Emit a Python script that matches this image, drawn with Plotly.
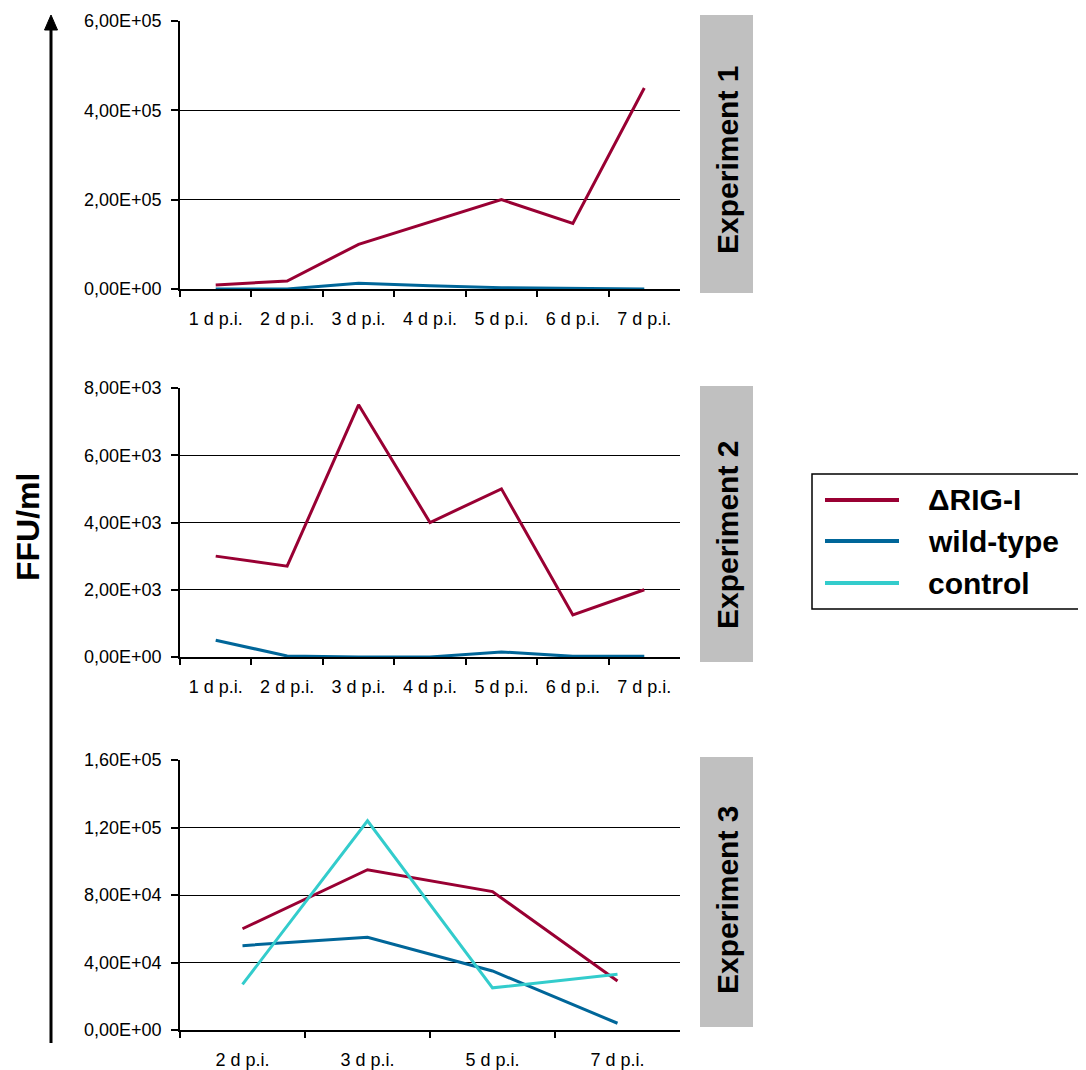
import plotly.graph_objects as go

W, H = 1086, 1070
OFF = 8  # page body margin offset

# ---------------- data ----------------
series_names = ["ΔRIG-I", "wild-type", "control"]
series_colors = ["#990033", "#006699", "#33CCCC"]

exp1_days = ["1 d p.i.", "2 d p.i.", "3 d p.i.", "4 d p.i.", "5 d p.i.", "6 d p.i.", "7 d p.i."]
exp1_rigi = [9000, 18000, 100000, 150000, 200000, 147000, 450000]
exp1_wt = [0, 0, 13000, 7000, 3000, 2000, 0]
exp1_yvals = [0, 200000, 400000, 600000]
exp1_ytext = ["0,00E+00", "2,00E+05", "4,00E+05", "6,00E+05"]

exp2_days = ["1 d p.i.", "2 d p.i.", "3 d p.i.", "4 d p.i.", "5 d p.i.", "6 d p.i.", "7 d p.i."]
exp2_rigi = [3000, 2700, 7500, 4000, 5000, 1250, 2000]
exp2_wt = [500, 30, 0, 0, 150, 20, 20]
exp2_yvals = [0, 2000, 4000, 6000, 8000]
exp2_ytext = ["0,00E+00", "2,00E+03", "4,00E+03", "6,00E+03", "8,00E+03"]

exp3_days = ["2 d p.i.", "3 d p.i.", "5 d p.i.", "7 d p.i."]
exp3_rigi = [60000, 95000, 82000, 29000]
exp3_wt = [50000, 55000, 35000, 4000]
exp3_ctrl = [27000, 124000, 25000, 33000]
exp3_yvals = [0, 40000, 80000, 120000, 160000]
exp3_ytext = ["0,00E+00", "4,00E+04", "8,00E+04", "1,20E+05", "1,60E+05"]

panel_titles = ["Experiment 1", "Experiment 2", "Experiment 3"]
axis_title = "FFU/ml"

# ---------------- layout helpers ----------------
def px(x):
    return (x - OFF) / W

def py(y):
    return 1 - (y - OFF) / H

FONT = "Liberation Sans, Arial, sans-serif"

fig = go.Figure()

panels = [
    dict(days=exp1_days, series=[exp1_rigi, exp1_wt], yv=exp1_yvals, yt=exp1_ytext, top=21, bot=289),
    dict(days=exp2_days, series=[exp2_rigi, exp2_wt], yv=exp2_yvals, yt=exp2_ytext, top=388, bot=657),
    dict(days=exp3_days, series=[exp3_rigi, exp3_wt, exp3_ctrl], yv=exp3_yvals, yt=exp3_ytext, top=760, bot=1030),
]

x_left, x_right = 180, 680

for i, p in enumerate(panels):
    n = i + 1
    xa = "x" if n == 1 else f"x{n}"
    ya = "y" if n == 1 else f"y{n}"
    for k, vals in enumerate(p["series"]):
        fig.add_trace(go.Scatter(
            x=p["days"], y=vals, mode="lines",
            name=series_names[k], showlegend=False,
            line=dict(color=series_colors[k], width=3),
            xaxis=xa, yaxis=ya,
        ))
    xkey = "xaxis" if n == 1 else f"xaxis{n}"
    ykey = "yaxis" if n == 1 else f"yaxis{n}"
    fig.update_layout(**{
        xkey: dict(
            domain=[px(x_left), px(x_right)],
            anchor=ya,
            type="category",
            categoryorder="array", categoryarray=p["days"],
            range=[-0.5, len(p["days"]) - 0.5],
            showgrid=False, zeroline=False, automargin=False,
            showline=True, linecolor="black", linewidth=2,
            ticks="outside", tickson="boundaries", ticklen=6, tickwidth=1.5, tickcolor="black",
            tickfont=dict(family=FONT, size=18, color="black"),
            ticklabelstandoff=12,
        ),
        ykey: dict(
            domain=[py(p["bot"]), py(p["top"])],
            anchor=xa,
            range=[0, p["yv"][-1]],
            tickmode="array", tickvals=p["yv"], ticktext=p["yt"],
            showgrid=True, gridcolor="black", gridwidth=1.3,
            zeroline=False, automargin=False,
            showline=True, linecolor="black", linewidth=1.5,
            ticks="outside", ticklen=7, tickwidth=1.5, tickcolor="black",
            tickfont=dict(family=FONT, size=18, color="black"),
            ticklabelstandoff=6,
        ),
    })

shapes = []
annotations = []

# grey panel label boxes
boxes = [(15, 293, 160), (386, 662, 535), (757, 1027, 900)]
for (t, b, c), title in zip(boxes, panel_titles):
    shapes.append(dict(type="rect", xref="paper", yref="paper",
                       x0=px(700), x1=px(753), y0=py(b), y1=py(t),
                       fillcolor="#C0C0C0", line=dict(width=0), layer="below"))
    annotations.append(dict(xref="paper", yref="paper", x=px(727), y=py(c),
                            text=f"<b>{title}</b>", textangle=-90, showarrow=False,
                            font=dict(family=FONT, size=30, color="black"),
                            xanchor="center", yanchor="middle"))

# big vertical arrow with axis title
shapes.append(dict(type="line", xref="paper", yref="paper",
                   x0=px(51), x1=px(51), y0=py(1043), y1=py(26),
                   line=dict(color="black", width=3)))
shapes.append(dict(type="path", xref="paper", yref="paper",
                   path=f"M {px(44.5)} {py(30)} L {px(51)} {py(15)} L {px(57.5)} {py(30)} Z",
                   fillcolor="black", line=dict(color="black", width=1)))
annotations.append(dict(xref="paper", yref="paper", x=px(28), y=py(527),
                        text=f"<b>{axis_title}</b>", textangle=-90, showarrow=False,
                        font=dict(family=FONT, size=32, color="black"),
                        xanchor="center", yanchor="middle"))

# legend box
shapes.append(dict(type="rect", xref="paper", yref="paper",
                   x0=px(812), x1=px(1110), y0=py(609), y1=py(474),
                   line=dict(color="black", width=1.5), fillcolor="white", layer="below"))
rows = [500, 541, 583]
for name, color, ry in zip(series_names, series_colors, rows):
    shapes.append(dict(type="line", xref="paper", yref="paper",
                       x0=px(825), x1=px(899), y0=py(ry), y1=py(ry),
                       line=dict(color=color, width=4)))
    annotations.append(dict(xref="paper", yref="paper", x=px(926), y=py(ry),
                            text=f"<b>{name}</b>", showarrow=False,
                            font=dict(family=FONT, size=30, color="black"),
                            xanchor="left", yanchor="middle"))

fig.update_layout(
    width=W, height=H,
    margin=dict(l=0, r=0, t=0, b=0),
    paper_bgcolor="white", plot_bgcolor="white",
    showlegend=False,
    shapes=shapes, annotations=annotations,
    font=dict(family=FONT, color="black"),
)

fig.write_html("out.html")
